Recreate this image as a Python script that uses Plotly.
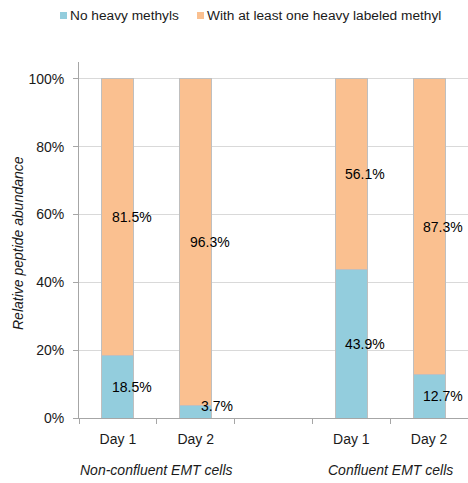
import plotly.graph_objects as go

# ---- data ----
positions = [0, 1, 3, 4]
day_labels = ["Day 1", "Day 2", "Day 1", "Day 2"]
no_heavy = [0.185, 0.037, 0.439, 0.127]
with_heavy = [0.815, 0.963, 0.561, 0.873]
group_positions = [0.5, 3.5]
group_labels = ["Non-confluent EMT cells", "Confluent EMT cells"]
series_names = ["No heavy methyls", "With at least one heavy labeled methyl"]
y_ticks = [0, 0.2, 0.4, 0.6, 0.8, 1.0]
y_title = "Relative peptide abundance"

# ---- style ----
BLUE = "#93CDDD"
ORANGE = "#FAC090"
FONT = "Liberation Sans, Arial, sans-serif"
TXT = "#1a1a1a"
FS = 14
W, H = 468, 483
ML, MR, MT, MB = 79, 0, 62, 65
PW = W - ML - MR
PH = H - MT - MB


def px2paper_x(px):
    return (px - ML) / PW


def px2paper_y(py):
    return 1 - (py - MT) / PH


fig = go.Figure()
fig.add_trace(go.Bar(x=positions, y=no_heavy, name=series_names[0], width=0.41,
                     marker=dict(color=BLUE, line=dict(color="#BFBFBF", width=1)),
                     showlegend=False))
fig.add_trace(go.Bar(x=positions, y=with_heavy, name=series_names[1], width=0.41,
                     marker=dict(color=ORANGE, line=dict(color="#BFBFBF", width=1)),
                     showlegend=False))

annotations = []
# data labels
for p, a, b in zip(positions, no_heavy, with_heavy):
    small = a < 0.05
    annotations.append(dict(x=p, y=a / 2, xref="x", yref="y", text=f"{a*100:.1f}%",
                            showarrow=False, xshift=21 if small else 14,
                            yshift=6 if small else 0,
                            font=dict(family=FONT, size=FS, color="#000000")))
    annotations.append(dict(x=p, y=a + b / 2, xref="x", yref="y", text=f"{b*100:.1f}%",
                            showarrow=False, xshift=14,
                            font=dict(family=FONT, size=FS, color="#000000")))
# group labels
for gp, gl in zip(group_positions, group_labels):
    annotations.append(dict(x=gp, y=px2paper_y(470), xref="x", yref="paper", text=gl,
                            showarrow=False, yanchor="middle",
                            font=dict(family=FONT, size=FS, color=TXT, style="italic")))
# y-axis title
annotations.append(dict(x=px2paper_x(18), y=px2paper_y(243), xref="paper", yref="paper",
                        text=y_title, textangle=-90, showarrow=False,
                        xanchor="center", yanchor="middle",
                        font=dict(family=FONT, size=FS, color=TXT, style="italic")))

# manual legend
shapes = []
leg = [(60, 68, BLUE, series_names[0]), (197, 205, ORANGE, series_names[1])]
for sq_x, tx, col, name in leg:
    shapes.append(dict(type="rect", xref="paper", yref="paper",
                       x0=px2paper_x(sq_x), x1=px2paper_x(sq_x + 7),
                       y0=px2paper_y(19), y1=px2paper_y(12),
                       fillcolor=col, line=dict(width=0)))
    annotations.append(dict(x=px2paper_x(tx), y=px2paper_y(15.5),
                            xref="paper", yref="paper", text=name, showarrow=False,
                            xanchor="left", yanchor="middle",
                            font=dict(family=FONT, size=FS - 0.3, color=TXT)))

fig.update_layout(
    width=W, height=H,
    margin=dict(l=ML, r=MR, t=MT, b=MB, autoexpand=False),
    barmode="stack",
    plot_bgcolor="white", paper_bgcolor="white",
    font=dict(family=FONT, size=FS, color=TXT),
    annotations=annotations,
    shapes=shapes,
    showlegend=False,
)
fig.update_xaxes(
    range=[-0.5, 4.5], tickvals=positions, ticktext=day_labels, ticks="",
    showline=True, linecolor="#A6A6A6", linewidth=1, showgrid=False, zeroline=False,
    ticklabelstandoff=8, automargin=False,
    minor=dict(tickvals=[-0.5, 0.5, 1.5, 2.5, 3.5, 4.5], ticks="outside", ticklen=5,
               tickcolor="#A6A6A6", showgrid=False),
    tickfont=dict(family=FONT, size=FS, color=TXT),
)
fig.update_yaxes(
    range=[0, 1.05], tickvals=y_ticks, tickformat=".0%",
    showline=True, linecolor="#A6A6A6", linewidth=1,
    gridcolor="#D9D9D9", gridwidth=1, zeroline=False,
    ticks="outside", ticklen=5, tickcolor="#A6A6A6",
    ticklabelstandoff=6, automargin=False,
    tickfont=dict(family=FONT, size=FS, color=TXT),
)

fig.write_html("out.html",
               config={"displayModeBar": False},
               post_script="document.body.style.margin='0';document.body.style.overflow='hidden';")
